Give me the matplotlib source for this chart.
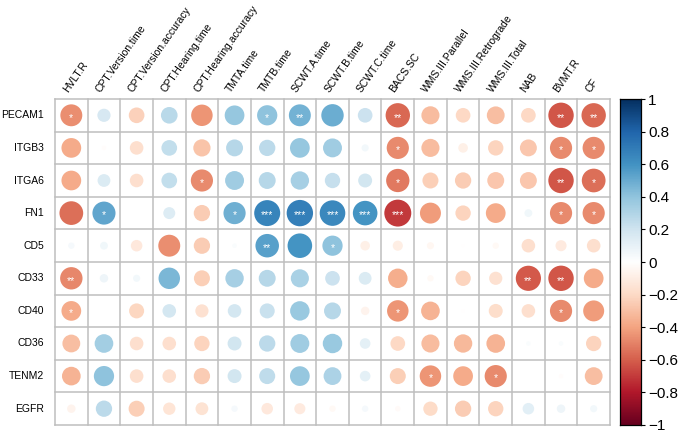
import numpy as np
import matplotlib
matplotlib.use("Agg")
import matplotlib.pyplot as plt
from matplotlib.colors import LinearSegmentedColormap, Normalize
from matplotlib.patches import Circle

rows = ["PECAM1", "ITGB3", "ITGA6", "FN1", "CD5", "CD33", "CD40", "CD36", "TENM2", "EGFR"]
cols = ["HVLT.R", "CPT.Version.time", "CPT.Version.accuracy", "CPT.Hearing.time",
        "CPT.Hearing.accuracy", "TMTA.time", "TMTB.time", "SCWT.A.time", "SCWT.B.time",
        "SCWT.C.time", "BACS.SC", "WMS.III.Parallel", "WMS.III.Retrograde", "WMS.III.Total",
        "NAB", "BVMT.R", "CF"]

r_PECAM1 = [-0.47, 0.17, -0.24, 0.27, -0.45, 0.38, 0.40, 0.47, 0.49, 0.21, -0.58, -0.32, -0.21, -0.31, -0.21, -0.63, -0.58]
r_ITGB3  = [-0.38, -0.02, -0.18, 0.24, -0.29, 0.28, 0.26, 0.38, 0.35, 0.05, -0.48, -0.32, -0.09, -0.23, -0.28, -0.48, -0.48]
r_ITGA6  = [-0.38, 0.16, -0.18, 0.24, -0.48, 0.35, 0.28, 0.33, 0.23, 0.19, -0.53, -0.25, -0.26, -0.28, -0.28, -0.63, -0.55]
r_FN1    = [-0.55, 0.52, 0.00, 0.14, -0.26, 0.48, 0.66, 0.68, 0.64, 0.59, -0.71, -0.43, -0.23, -0.38, 0.06, -0.48, -0.48]
r_CD5    = [0.04, 0.06, -0.13, -0.47, -0.26, 0.02, 0.54, 0.59, 0.40, -0.09, -0.10, -0.05, -0.01, -0.04, -0.18, -0.12, -0.18]
r_CD33   = [-0.49, 0.07, 0.05, 0.45, -0.25, 0.33, 0.28, 0.32, 0.21, 0.16, -0.37, -0.04, -0.23, -0.17, -0.62, -0.63, -0.38]
r_CD40   = [-0.38, 0.00, -0.22, 0.18, -0.17, 0.18, 0.22, 0.37, 0.28, -0.07, -0.45, -0.34, -0.01, -0.19, -0.18, -0.48, -0.43]
r_CD36   = [-0.31, 0.34, -0.18, -0.18, -0.23, 0.19, 0.26, 0.35, 0.37, 0.11, -0.21, -0.32, -0.33, -0.34, 0.02, 0.02, -0.23]
r_TENM2  = [-0.34, 0.40, -0.18, -0.18, -0.26, 0.19, 0.25, 0.38, 0.31, 0.11, -0.25, -0.45, -0.38, -0.48, 0.00, -0.02, -0.31]
r_EGFR   = [-0.07, 0.26, -0.25, -0.15, -0.16, 0.04, -0.13, -0.12, -0.04, 0.04, -0.03, -0.20, -0.26, -0.23, 0.13, 0.07, 0.05]

s_PECAM1 = ["*", "", "", "", "", "", "*", "**", "", "", "**", "", "", "", "", "**", "**"]
s_ITGB3  = ["", "", "", "", "", "", "", "", "", "", "*", "", "", "", "", "*", "*"]
s_ITGA6  = ["", "", "", "", "*", "", "", "", "", "", "*", "", "", "", "", "**", "*"]
s_FN1    = ["", "*", "", "", "", "*", "***", "***", "***", "***", "***", "", "", "", "", "*", "*"]
s_CD5    = ["", "", "", "", "", "", "**", "", "*", "", "", "", "", "", "", "", ""]
s_CD33   = ["**", "", "", "", "", "", "", "", "", "", "", "", "", "", "**", "**", ""]
s_CD40   = ["*", "", "", "", "", "", "", "", "", "", "*", "", "", "", "", "*", ""]
s_CD36   = [""] * 17
s_TENM2  = ["", "", "", "", "", "", "", "", "", "", "", "*", "", "*", "", "", ""]
s_EGFR   = [""] * 17

R = np.array([r_PECAM1, r_ITGB3, r_ITGA6, r_FN1, r_CD5, r_CD33, r_CD40, r_CD36, r_TENM2, r_EGFR])
S = [s_PECAM1, s_ITGB3, s_ITGA6, s_FN1, s_CD5, s_CD33, s_CD40, s_CD36, s_TENM2, s_EGFR]

cmap = LinearSegmentedColormap.from_list(
    "corrRdBu",
    ["#67001F", "#B2182B", "#D6604D", "#F4A582", "#FDDBC7", "#FFFFFF",
     "#D1E5F0", "#92C5DE", "#4393C3", "#2166AC", "#053061"], N=200)
norm = Normalize(-1, 1)

W, H = 685, 434
fig = plt.figure(figsize=(W / 100, H / 100), dpi=100)
plt.rcParams['font.family'] = ['Liberation Sans', 'DejaVu Sans']

gx0, gx1, gy0, gy1 = 55, 610, 99, 425
ax = fig.add_axes([gx0 / W, 1 - gy1 / H, (gx1 - gx0) / W, (gy1 - gy0) / H])
nr, nc = R.shape
ax.set_xlim(0, nc)
ax.set_ylim(nr, 0)
ax.axis("off")

gridc = "#BEBEBE"
for i in range(nr + 1):
    ax.plot([0, nc], [i, i], color=gridc, lw=1.1, zorder=1, clip_on=False)
for j in range(nc + 1):
    ax.plot([j, j], [0, nr], color=gridc, lw=1.1, zorder=1, clip_on=False)

for i in range(nr):
    for j in range(nc):
        v = R[i, j]
        rad = 0.49 * np.sqrt(abs(v))
        if rad > 0:
            ax.add_patch(Circle((j + 0.5, i + 0.5), rad, facecolor=cmap(norm(v)),
                                edgecolor="none", zorder=2))
        if S[i][j]:
            ax.text(j + 0.5, i + 0.57, S[i][j], color="white", fontsize=7.5,
                    ha="center", va="center", zorder=3)

for i, name in enumerate(rows):
    ax.text(-0.33, i + 0.5, name, ha="right", va="center", fontsize=7.5, color="black")
for j, name in enumerate(cols):
    ax.text(j + 0.45, -0.15, name, ha="left", va="bottom", fontsize=7.5, color="black",
            rotation=55, rotation_mode="anchor")

# colorbar
cx0, cx1 = 620, 641
cax = fig.add_axes([cx0 / W, 1 - gy1 / H, (cx1 - cx0) / W, (gy1 - gy0) / H])
grad = np.linspace(-1, 1, 400).reshape(-1, 1)
cax.imshow(grad, cmap=cmap, norm=norm, aspect="auto", origin="lower", extent=[0, 1, -1, 1])
cax.set_xlim(0, 1)
cax.set_ylim(-1, 1)
cax.set_xticks([])
ticks = np.round(np.arange(-1, 1.01, 0.2), 1)
cax.yaxis.tick_right()
cax.set_yticks(ticks)
cax.set_yticklabels(["\u22121" if t == -1 else ("0" if t == 0 else ("1" if t == 1 else
                     ("\u2212%.1f" % abs(t) if t < 0 else "%.1f" % t))) for t in ticks])
cax.tick_params(axis="y", length=3, width=0.8, labelsize=11, pad=2, colors="black")
for sp in cax.spines.values():
    sp.set_linewidth(0.9)
    sp.set_color("black")

fig.savefig("out.png", dpi=100)
